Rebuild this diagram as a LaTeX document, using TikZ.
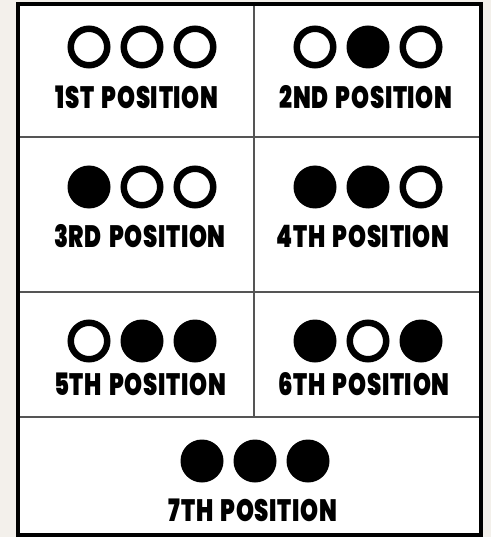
\documentclass[tikz,border=0pt]{standalone}
\usepackage{fontspec}
\usepackage{graphicx}
\newfontfamily\posfont{Poppins Black}[LetterSpace=3,WordSpace=1.6]
\definecolor{beige}{HTML}{F3F0EB}
\definecolor{gridline}{HTML}{555555}
\newcommand{\poslabel}[1]{\scalebox{0.74}[1]{#1}}
\begin{document}
\begin{tikzpicture}[x=1bp,y=-1bp,
  ring/.style={circle,draw=black,fill=white,line width=6.5bp,minimum size=36.5bp,inner sep=0pt},
  dot/.style={circle,fill=black,minimum size=43bp,inner sep=0pt},
  label/.style={inner sep=0pt,font=\posfont\fontsize{31}{31}\selectfont},
  cellline/.style={draw=gridline,line width=1.5bp}]
\useasboundingbox (0,0) rectangle (491,537);
\fill[beige] (0,0) rectangle (491,537);
\fill[white] (18,4) rectangle (481,535);
% grid lines
\draw[cellline] (18,137) -- (481,137);
\draw[cellline] (18,292) -- (481,292);
\draw[cellline] (18,417) -- (481,417);
\draw[cellline] (254,4) -- (254,417);
\draw[black,line width=4bp] (18,4) rectangle (481,535);
% 1st
\node[ring] (a1) at (89,47) {};
\node[ring] (a2) at (142,47) {};
\node[ring] (a3) at (195,47) {};
\node[label] (la) at (137,97) {\poslabel{1ST POSITION}};
% 2nd
\node[ring] (b1) at (315,47) {};
\node[dot]  (b2) at (368,47) {};
\node[ring] (b3) at (421,47) {};
\node[label] (lb) at (366,97) {\poslabel{2ND POSITION}};
% 3rd
\node[dot]  (c1) at (89,187) {};
\node[ring] (c2) at (142,187) {};
\node[ring] (c3) at (195,187) {};
\node[label] (lc) at (140,236) {\poslabel{3RD POSITION}};
% 4th
\node[dot]  (d1) at (315,187) {};
\node[dot]  (d2) at (368,187) {};
\node[ring] (d3) at (421,187) {};
\node[label] (ld) at (363,236) {\poslabel{4TH POSITION}};
% 5th
\node[ring] (e1) at (89,341) {};
\node[dot]  (e2) at (142,341) {};
\node[dot]  (e3) at (195,341) {};
\node[label] (le) at (140,384) {\poslabel{5TH POSITION}};
% 6th
\node[dot]  (f1) at (315,341) {};
\node[ring] (f2) at (368,341) {};
\node[dot]  (f3) at (421,341) {};
\node[label] (lf) at (364,384) {\poslabel{6TH POSITION}};
% 7th
\node[dot]  (g1) at (202,461) {};
\node[dot]  (g2) at (255,461) {};
\node[dot]  (g3) at (308,461) {};
\node[label] (lg) at (253,510) {\poslabel{7TH POSITION}};
\end{tikzpicture}
\end{document}
